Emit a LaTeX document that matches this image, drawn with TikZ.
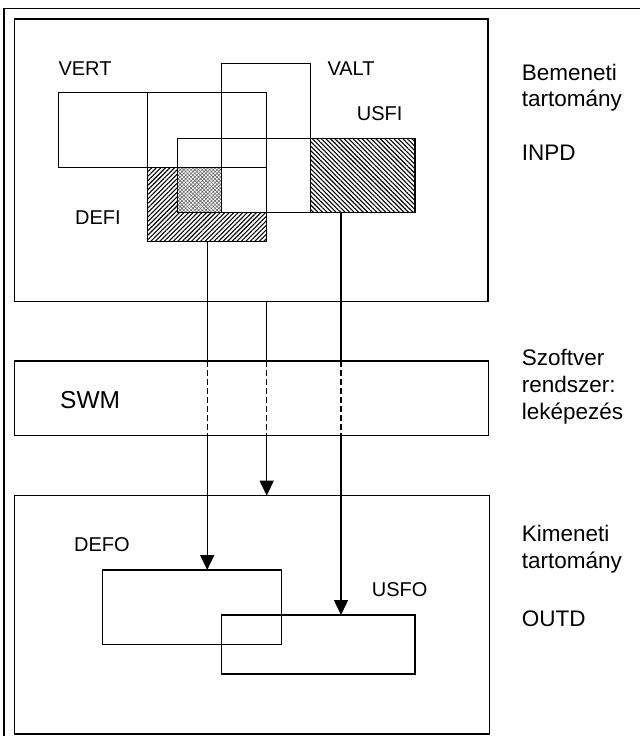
\documentclass[tikz,border=0pt]{standalone}
\usepackage{fontspec}
\setmainfont{Liberation Sans}
\usetikzlibrary{arrows.meta,patterns.meta,fit}
\begin{document}
\begin{tikzpicture}[x=1pt,y=-1pt,
  ln/.style={line width=1.4pt, draw=black},
  rect/.style={ln, inner sep=0pt, outer sep=0pt},
  lbl/.style={anchor=base west, inner sep=0pt, font=\fontsize{20}{24}\selectfont},
  side/.style={anchor=base west, inner sep=0pt, font=\fontsize{22.5}{26}\selectfont},
  big/.style={anchor=base west, inner sep=0pt, font=\fontsize{24.5}{28}\selectfont},
  flow/.style={line width=1.4pt},
  swmflow/.style={line width=1.2pt, dash pattern=on 6pt off 3pt},
  tip/.style={-{Triangle[length=15pt,width=14pt]}},
  hatchA/.style={pattern={Lines[angle=45,distance=3.2pt,line width=1.1pt]}},
  hatchB/.style={pattern={Lines[angle=-45,distance=3.2pt,line width=1.1pt]}},
  cross/.style={pattern={Hatch[angle=45,distance=2.6pt,line width=0.6pt]}, pattern color=black!60},
]
\useasboundingbox (0,0) rectangle (640,736);
% outer frame
\draw[ln] (4,736) -- (4,8.3) -- (640,8.3);

% domain boxes
\node[rect, fit={(14.3,19) (488,301.7)}] (inpd) {};
\node[rect, fit={(14.3,361) (488.5,435.7)}] (swm) {};
\node[rect, fit={(14.3,495.7) (489.3,734)}] (outd) {};

% fills
\fill[hatchA] (147.7,167.3) rectangle (266.7,241.7);
\fill[white] (177.3,167.3) rectangle (266.7,212.3);
\fill[cross] (177.3,167.3) rectangle (221.7,212.3);
\fill[hatchB] (310.7,138.3) rectangle (415,212.3);

% input rectangles
\node[rect, fit={(58.3,92.7) (266.7,167.3)}] (vert) {};
\node[rect, fit={(147.7,92.7) (266.7,241.7)}] (vertb) {};
\node[rect, fit={(221.7,63.3) (310.7,212.3)}] (valt) {};
\node[rect, fit={(177.3,138.3) (415,212.3)}] (inner) {};
\node[rect, fit={(147.7,167.3) (266.7,241.7)}] (defi) {};
\node[rect, fit={(310.7,138.3) (415,212.3)}] (usfi) {};

% output rectangles
\node[rect, fit={(102.7,570) (281.7,644.3)}] (defo) {};
\node[rect, fit={(221.7,615) (415,674)}] (usfo) {};

% connector start points
\coordinate (a0) at (defi.south);
\coordinate (b0) at (defi.south east |- inpd.south);
\coordinate (c0) at (341,212.3);

% connectors
\draw[flow] (a0) -- (a0 |- swm.north);
\draw[swmflow] (a0 |- swm.north) -- (a0 |- swm.south);
\draw[flow,tip] (a0 |- swm.south) -- (a0 |- defo.north);

\draw[flow] (b0) -- (b0 |- swm.north);
\draw[swmflow] (b0 |- swm.north) -- (b0 |- swm.south);
\draw[flow,tip] (b0 |- swm.south) -- (b0 |- outd.north);

\draw[flow] (c0) -- (c0 |- swm.north);
\draw[swmflow] (c0 |- swm.north) -- (c0 |- swm.south);
\draw[flow,tip] (c0 |- swm.south) -- (c0 |- usfo.north);

% labels
\node[lbl] (tvert) at (58.3,75) {VERT};
\node[lbl] (tvalt) at (327.3,75) {VALT};
\node[lbl] (tusfi) at (356.7,120) {USFI};
\node[lbl] (tdefi) at (75,224) {DEFI};
\node[lbl] (tdefo) at (74,551.7) {DEFO};
\node[lbl] (tusfo) at (371.7,596.7) {USFO};
\node[big] (tswm) at (60,408.3) {SWM};

\node[side] (s1) at (521.7,80) {Bemeneti};
\node[side] (s2) at (521.7,106.5) {tartomány};
\node[side] (s3) at (521.7,160.7) {INPD};
\node[side] (s4) at (521.7,365) {Szoftver};
\node[side] (s5) at (521.7,392) {rendszer:};
\node[side] (s6) at (521.7,419.5) {leképezés};
\node[side] (s7) at (521.7,541.7) {Kimeneti};
\node[side] (s8) at (521.7,568.5) {tartomány};
\node[side] (s9) at (521.7,626) {OUTD};
\end{tikzpicture}
\end{document}
